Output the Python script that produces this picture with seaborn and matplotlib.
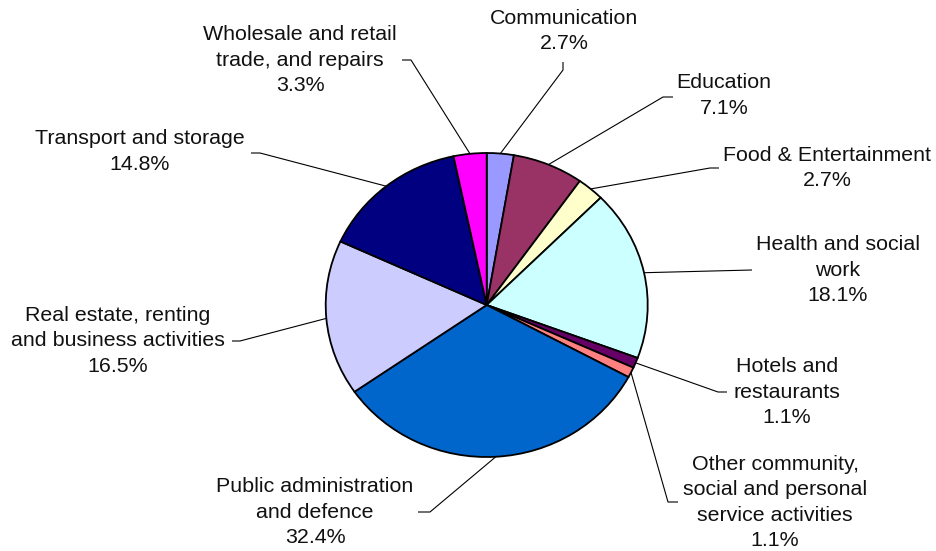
import numpy as np
import matplotlib
matplotlib.use("Agg")
import matplotlib.pyplot as plt
import seaborn as sns

# Employment share by sector (percent), clockwise from 12 o'clock
sectors = [
    "Communication",
    "Education",
    "Food & Entertainment",
    "Health and social\nwork",
    "Hotels and\nrestaurants",
    "Other community,\nsocial and personal\nservice activities",
    "Public administration\nand defence",
    "Real estate, renting\nand business activities",
    "Transport and storage",
    "Wholesale and retail\ntrade, and repairs",
]
shares = [2.7, 7.1, 2.7, 18.1, 1.1, 1.1, 32.4, 16.5, 14.8, 3.3]
colors = ["#9999FF", "#993366", "#FFFFCC", "#CCFFFF", "#660066",
          "#FF8080", "#0066CC", "#CCCCFF", "#000080", "#FF00FF"]

# Label placement in figure pixels: text centre, leader elbow, leader end
label_xy = [(564, 31), (724, 95.5), (827, 168), (838, 270), (787, 392),
            (775, 502.5), (315, 512), (118, 341), (140, 151.5), (300, 60)]
elbow_xy = [(563, 70), (663, 97), (710, 168), (752, 270), (718, 392),
            (668, 502), (430, 512), (240, 341), (260, 153), (411, 60)]
end_xy = [(563, 62), (673, 97), (719, 168), (752, 270), (727, 392),
          (678, 502), (418, 512), (232, 341), (251, 153), (402, 60)]

sns.set_style("white")
plt.rcParams["font.family"] = ["Liberation Sans", "DejaVu Sans"]

W, H = 937, 551
fig = plt.figure(figsize=(W / 100, H / 100), dpi=100)
ax = fig.add_axes([0, 0, 1, 1])

# pie centre and radii in pixels (slightly wider than tall)
cx, cy, rx, ry = 486.7, 305.0, 161.0, 152.0


def to_data(px, py):
    return (px - cx) / rx, (cy - py) / ry


wedges, _ = ax.pie(
    shares, colors=colors, startangle=90, counterclock=False,
    wedgeprops=dict(edgecolor="black", linewidth=1.3),
)
ax.set_aspect("auto")
ax.set_xlim(-cx / rx, (W - cx) / rx)
ax.set_ylim(-(H - cy) / ry, cy / ry)
ax.axis("off")

for w, name, val, txy, exy, nxy in zip(wedges, sectors, shares,
                                       label_xy, elbow_xy, end_xy):
    mid = np.deg2rad((w.theta1 + w.theta2) / 2)
    sx, sy = np.cos(mid), np.sin(mid)
    ex, ey = to_data(*exy)
    nx, ny = to_data(*nxy)
    ax.plot([sx, ex, nx], [sy, ey, ny], color="black", lw=0.8,
            solid_capstyle="butt", zorder=0.5)
    tx, ty = to_data(*txy)
    ax.text(tx, ty, f"{name}\n{val:.1f}%", ha="center", va="center",
            fontsize=15.4, color="#111111", linespacing=1.42)

fig.savefig("out.png", dpi=100, facecolor="white")
